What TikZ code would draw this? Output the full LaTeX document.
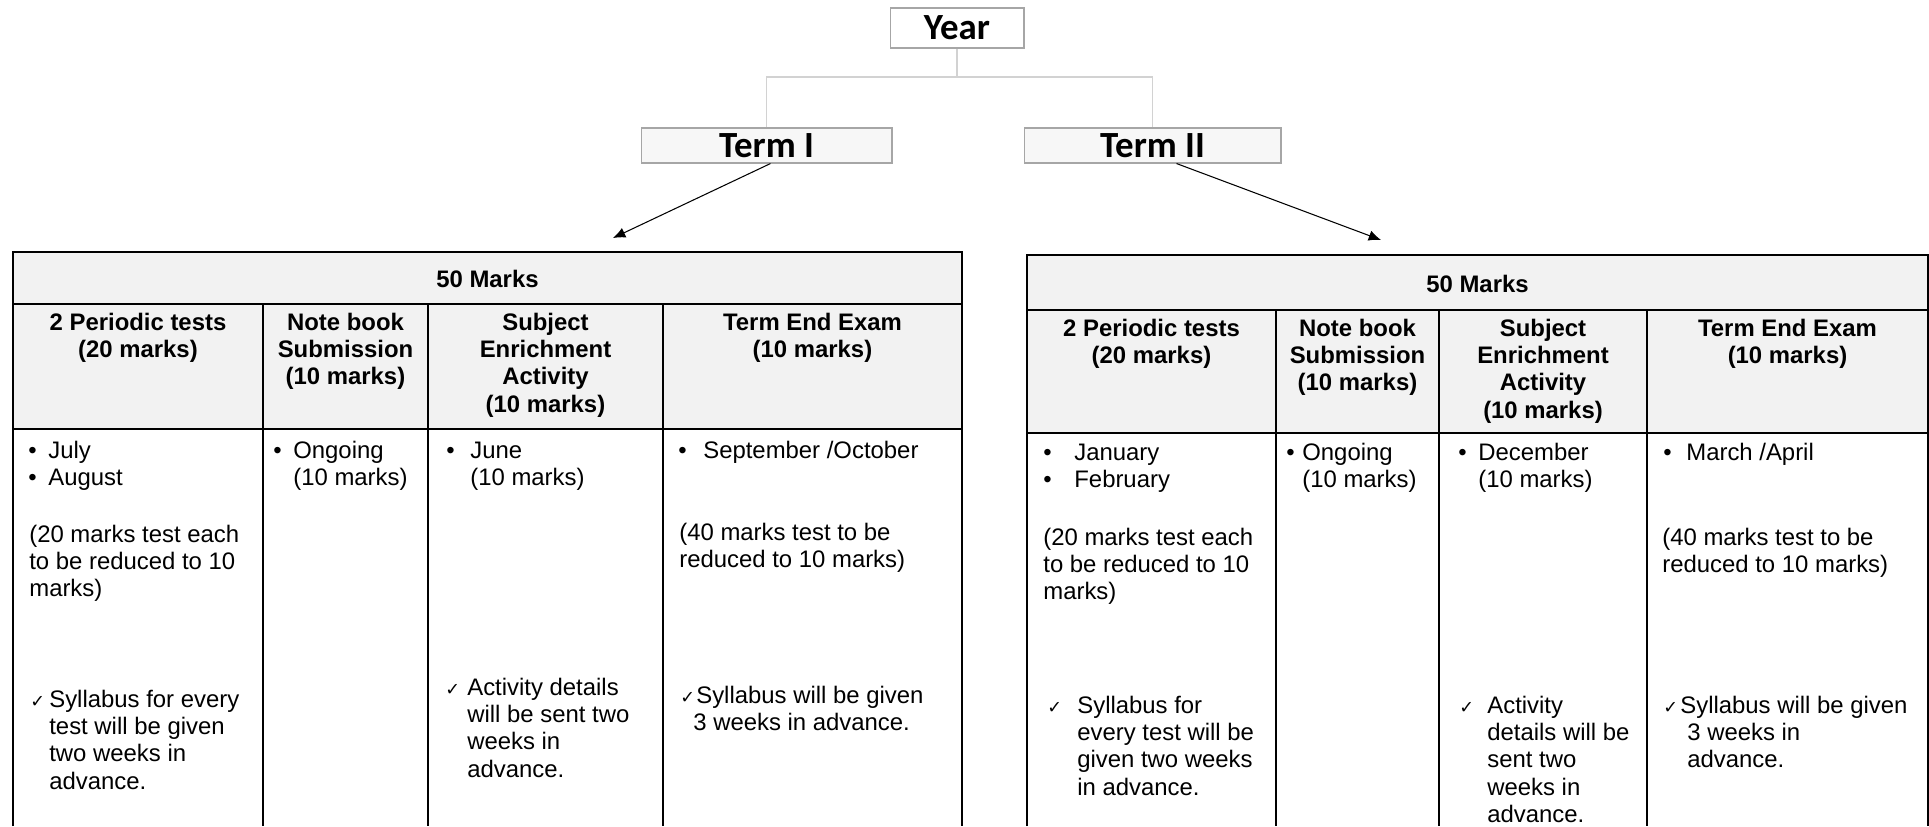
\documentclass[tikz,border=0pt]{standalone}
\usepackage{fontspec}
\setmainfont{Liberation Sans}
\newfontfamily\carlito{Carlito}
\newfontfamily\dejavu{DejaVu Sans}
\usepackage{tikz}
\usetikzlibrary{arrows.meta}
\usetikzlibrary{calc}

\newcommand{\celltext}[1]{\begin{tabular}[t]{@{}l@{}}#1\end{tabular}}
\newcommand{\headtext}[1]{\begin{tabular}[t]{@{}c@{}}#1\end{tabular}}
\newcommand{\bul}[1]{\llap{\makebox[#1][l]{\textbullet}}}
\newcommand{\chk}[1]{\llap{\makebox[#1][l]{{\dejavu\fontsize{10}{10}\selectfont ✓}}}}

\tikzset{
  titlebox/.style={rectangle, draw=gray!70, line width=0.6pt, inner sep=0pt, font=\carlito\bfseries\fontsize{21}{24}\selectfont},
  tree/.style={draw=gray!35, line width=0.6pt},
  grid/.style={draw=black, line width=0.9pt},
  head/.style={anchor=base, inner sep=0pt, font=\bfseries\fontsize{13.6}{15.6}\selectfont},
  body/.style={anchor=base west, inner sep=0pt, font=\fontsize{13.6}{15.6}\selectfont}
}

\begin{document}
\begin{tikzpicture}[x=0.02cm, y=-0.02cm]
    \useasboundingbox (0,0) rectangle (1929,826);

    % year and terms
    \node (year) [titlebox, fill=white, minimum width=2.68cm, minimum height=0.8cm] at (957,28) {Year};
    \node (termI) [titlebox, fill=gray!6, minimum width=5.02cm, minimum height=0.7cm] at (766.5,145.5) {Term I};
    \node (termII) [titlebox, fill=gray!6, minimum width=5.14cm, minimum height=0.7cm] at (1152.5,145.5) {Term II};
    \coordinate (fork) at (957,77);
    \draw[tree] (year.south) -- (fork);
    \draw[tree] (termI.north) |- (fork) -| (termII.north);

    \coordinate (tipI) at (613,238);
    \coordinate (tipII) at (1381,240);
    \draw[-{Latex[length=7pt,width=6pt]}, line width=0.6pt] ($(termI.south)+(4,0)$) -- (tipI);
    \draw[-{Latex[length=7pt,width=6pt]}, line width=0.6pt] ($(termII.south)+(24,0)$) -- (tipII);

    % table for term I
    \fill[gray!10] (13,252) rectangle (962,429);
    \draw[grid] (13,826) -- (13,252) -- (962,252) -- (962,826);
    \draw[grid] (13,304) -- (962,304);
    \draw[grid] (13,429) -- (962,429);
    \foreach \x in {263,428,663}
        \draw[grid] (\x,304) -- (\x,826);

    \node (markI) [head] at (487.5,287) {50 Marks};
    \node (ptI) [head] at (138,330) {\headtext{2 Periodic tests\\(20 marks)}};
    \node (nbI) [head] at (345.5,330) {\headtext{Note book\\Submission\\(10 marks)}};
    \node (seI) [head] at (545.5,330) {\headtext{Subject\\Enrichment\\Activity\\(10 marks)}};
    \node (teI) [head] at (812.5,330) {\headtext{Term End Exam\\(10 marks)}};

    \node (ptIa) [body] at (48,458) {\celltext{\bul{0.4cm}July\\\bul{0.4cm}August}};
    \node (ptIb) [body] at (29,542) {\celltext{(20 marks test each\\to be reduced to 10\\marks)}};
    \node (ptIc) [body] at (49,707) {\celltext{\chk{0.38cm}Syllabus for every\\test will be given\\two weeks in\\advance.}};
    \node (nbIa) [body] at (293,458) {\celltext{\bul{0.4cm}Ongoing\\(10 marks)}};
    \node (seIa) [body] at (470,458) {\celltext{\bul{0.48cm}June\\(10 marks)}};
    \node (seIb) [body] at (467,695) {\celltext{\chk{0.44cm}Activity details\\will be sent two\\weeks in\\advance.}};
    \node (teIa) [body] at (703,458) {\celltext{\bul{0.5cm}September /October}};
    \node (teIb) [body] at (679,540) {\celltext{(40 marks test to be\\reduced to 10 marks)}};
    \node (teIc) [body] at (696,703) {\celltext{\chk{0.32cm}Syllabus will be given\\\hspace*{-0.06cm}3 weeks in advance.}};

    % table for term II
    \fill[gray!10] (1027,255) rectangle (1928,433);
    \draw[grid] (1027,826) -- (1027,255) -- (1928,255) -- (1928,826);
    \draw[grid] (1027,310) -- (1928,310);
    \draw[grid] (1027,433) -- (1928,433);
    \foreach \x in {1276,1439,1647}
        \draw[grid] (\x,310) -- (\x,826);

    \node (markII) [head] at (1477.5,292) {50 Marks};
    \node (ptII) [head] at (1151.5,336) {\headtext{2 Periodic tests\\(20 marks)}};
    \node (nbII) [head] at (1357.5,336) {\headtext{Note book\\Submission\\(10 marks)}};
    \node (seII) [head] at (1543,336) {\headtext{Subject\\Enrichment\\Activity\\(10 marks)}};
    \node (teII) [head] at (1787.5,336) {\headtext{Term End Exam\\(10 marks)}};

    \node (ptIIa) [body] at (1074,460) {\celltext{\bul{0.62cm}January\\\bul{0.62cm}February}};
    \node (ptIIb) [body] at (1043,545) {\celltext{(20 marks test each\\to be reduced to 10\\marks)}};
    \node (ptIIc) [body] at (1077,713) {\celltext{\chk{0.6cm}Syllabus for\\every test will be\\given two weeks\\in advance.}};
    \node (nbIIa) [body] at (1302,460) {\celltext{\bul{0.32cm}Ongoing\\(10 marks)}};
    \node (seIIa) [body] at (1478,460) {\celltext{\bul{0.4cm}December\\(10 marks)}};
    \node (seIIb) [body] at (1487,713) {\celltext{\chk{0.56cm}Activity\\details will be\\sent two\\weeks in\\advance.}};
    \node (teIIa) [body] at (1686,460) {\celltext{\bul{0.46cm}March /April}};
    \node (teIIb) [body] at (1662,545) {\celltext{(40 marks test to be\\reduced to 10 marks)}};
    \node (teIIc) [body] at (1680,713) {\celltext{\chk{0.34cm}Syllabus will be given\\\hspace*{0.14cm}3 weeks in\\\hspace*{0.14cm}advance.}};
\end{tikzpicture}
\end{document}
